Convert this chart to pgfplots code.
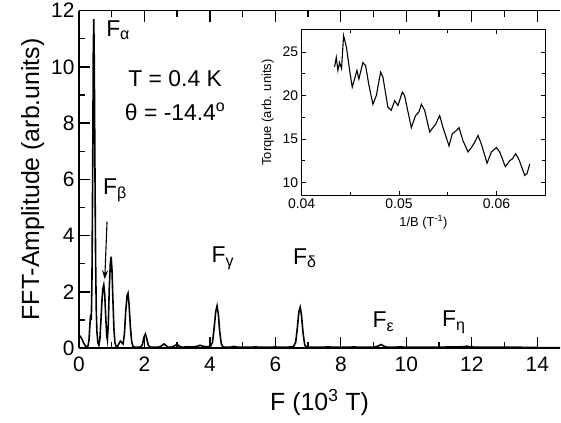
\documentclass[border=0pt]{standalone}
\usepackage{fontspec}
\setmainfont{Liberation Sans}
\usepackage{pgfplots}
\pgfplotsset{compat=1.18}
\usetikzlibrary{arrows.meta}

\begin{document}
\begin{tikzpicture}
\begin{axis}[
  at={(0,0)},anchor=south west,
  width=482bp,height=338bp,scale only axis,
  xmin=0,xmax=14.7,ymin=0,ymax=12,
  axis y line*=left,axis x line*=box,
  axis line style={line width=1.6bp,-},
  xtick={0,2,...,14},ytick={0,2,...,12},
  minor x tick num=1,minor y tick num=1,
  tick align=inside,
  major tick length=11bp,minor tick length=6bp,
  every tick/.style={line width=1.3bp,black},
  /pgf/number format/assume math mode=true,
  tick label style={font=\fontsize{21}{21}\selectfont},
  xticklabel style={yshift=-5bp},
  yticklabel style={xshift=-1bp},
  xlabel={F (10\textsuperscript{3} T)},
  ylabel={FFT-Amplitude (arb.units)},
  label style={font=\fontsize{25}{25}\selectfont},
  xlabel style={yshift=-11bp},
  ylabel style={yshift=0bp},
  clip=false,
]
\addplot[black,line width=1.6bp] coordinates {
(0,0.45)(0.04,0.42)(0.08,0.35)(0.12,0.25)(0.16,0.15)(0.2,0.08)(0.24,0.05)(0.28,0.08)
(0.31,0.3)(0.34,0.9)(0.36,1.2)(0.38,1.0)(0.4,2.5)(0.42,6.0)(0.44,10.5)(0.455,11.7)
(0.47,10.2)(0.49,6.5)(0.51,3.2)(0.53,1.4)(0.55,0.6)(0.58,0.2)(0.61,0.1)(0.64,0.3)
(0.67,0.9)(0.7,1.6)(0.73,2.1)(0.76,2.25)(0.79,1.9)(0.82,1.1)(0.85,0.45)(0.87,0.3)
(0.9,0.9)(0.93,2.2)(0.96,3.0)(0.985,3.25)(1.01,2.8)(1.04,1.7)(1.07,0.7)(1.1,0.2)
(1.14,0.05)(1.18,0.05)(1.22,0.15)(1.27,0.25)(1.31,0.2)(1.35,0.15)(1.39,0.5)(1.43,1.3)
(1.47,1.85)(1.5,1.95)(1.53,1.6)(1.57,0.8)(1.61,0.25)(1.65,0.06)(1.72,0.03)(1.8,0.03)
(1.88,0.04)(1.94,0.12)(1.99,0.4)(2.03,0.5)(2.07,0.35)(2.12,0.1)(2.18,0.03)(2.3,0.03)
(2.45,0.04)(2.55,0.1)(2.6,0.15)(2.65,0.1)(2.72,0.03)(2.85,0.04)(2.95,0.1)(3.0,0.14)
(3.05,0.08)(3.15,0.03)(3.3,0.05)(3.45,0.04)(3.6,0.06)(3.7,0.1)(3.8,0.06)(3.9,0.05)
(4.02,0.06)(4.08,0.2)(4.13,0.7)(4.18,1.3)(4.22,1.5)(4.26,1.2)(4.3,0.6)(4.35,0.15)
(4.4,0.04)(4.6,0.03)(4.75,0.06)(4.85,0.03)(5.1,0.03)(5.4,0.04)(5.7,0.03)(6.0,0.04)
(6.3,0.03)(6.55,0.05)(6.62,0.2)(6.67,0.7)(6.72,1.3)(6.76,1.45)(6.8,1.15)(6.85,0.5)
(6.9,0.1)(6.96,0.03)(7.3,0.03)(7.6,0.04)(8.0,0.03)(8.4,0.04)(8.7,0.03)(9.05,0.04)
(9.15,0.08)(9.23,0.13)(9.3,0.08)(9.4,0.03)(9.8,0.04)(10.3,0.03)(10.8,0.03)(11.3,0.04)
(11.75,0.05)(11.85,0.07)(11.95,0.04)(12.5,0.03)(13.0,0.03)(13.5,0.03)(14.0,0.02)(14.7,0.02)
};
\begin{scope}[font=\fontsize{23}{23}\selectfont]
\node[anchor=west,inner sep=0pt] at (axis cs:0.83,11.3) {F\textsubscript{α}};
\node at (axis cs:2.94,9.57) {T = 0.4 K};
\node at (axis cs:2.94,8.4) {θ = -14.4\textsuperscript{o}};
\node at (axis cs:1.1,5.6) {F\textsubscript{β}};
\node at (axis cs:4.4,3.2) {F\textsubscript{γ}};
\node at (axis cs:6.9,3.2) {F\textsubscript{δ}};
\node at (axis cs:9.3,0.93) {F\textsubscript{ε}};
\node at (axis cs:11.45,0.93) {F\textsubscript{η}};
\end{scope}
\draw[-{Stealth[length=9bp,width=6bp]},line width=1.1bp] (axis cs:0.86,4.5) -- (axis cs:0.79,2.45);
\end{axis}

\begin{axis}[
  at={(223bp,153bp)},anchor=south west,
  width=244bp,height=166bp,scale only axis,
  xmin=0.04,xmax=0.065,ymin=8.5,ymax=27.6,
  axis background/.style={fill=white},
  axis line style={line width=1bp},
  xtick={0.04,0.05,0.06},xticklabels={0.04,0.05,0.06},
  scaled x ticks=false,
  ytick={10,15,20,25},
  minor x tick num=1,minor y tick num=1,
  tick align=inside,
  major tick length=4bp,minor tick length=3bp,
  every tick/.style={line width=0.8bp,black},
  /pgf/number format/assume math mode=true,
  tick label style={font=\fontsize{14}{14}\selectfont},
  xlabel={1/B (T\textsuperscript{-1})},
  ylabel={Torque (arb. units)},
  label style={font=\fontsize{13}{13}\selectfont},
  ylabel style={yshift=2bp},
]
\addplot[black,line width=1.1bp] coordinates {
(0.04339,23.3)(0.04356,24.4)(0.04373,22.9)(0.0439,23.8)(0.0441,23.1)(0.04431,26.9)
(0.0446,25.6)(0.04493,22.9)(0.0452,20.96)(0.04544,21.9)(0.04568,22.9)(0.04588,21.9)
(0.04629,23.8)(0.04657,23.45)(0.04691,21.2)(0.04732,19.0)(0.04767,20.0)(0.04811,22.7)
(0.04835,22.1)(0.04886,18.65)(0.0492,18.3)(0.04955,19.4)(0.04989,18.85)(0.05034,20.4)
(0.05057,20.0)(0.05126,16.3)(0.0517,17.7)(0.05204,18.1)(0.05229,19.0)(0.05263,18.3)
(0.05314,15.8)(0.05348,16.3)(0.05376,16.7)(0.05417,17.7)(0.05451,16.3)(0.05513,14.2)
(0.05547,15.6)(0.05588,15.96)(0.05615,16.3)(0.05656,14.8)(0.05708,13.5)(0.05742,14.0)
(0.05776,14.6)(0.0581,15.4)(0.05845,14.4)(0.05903,12.2)(0.05948,13.5)(0.05999,14.0)
(0.06033,13.5)(0.06091,11.8)(0.06136,12.5)(0.06163,12.7)(0.06197,13.3)(0.06231,12.6)
(0.0629,10.8)(0.06313,11.0)(0.06341,12.1)
};
\end{axis}
\path[use as bounding box] (-79bp,-74bp) rectangle (482bp,348bp);
\end{tikzpicture}
\end{document}
